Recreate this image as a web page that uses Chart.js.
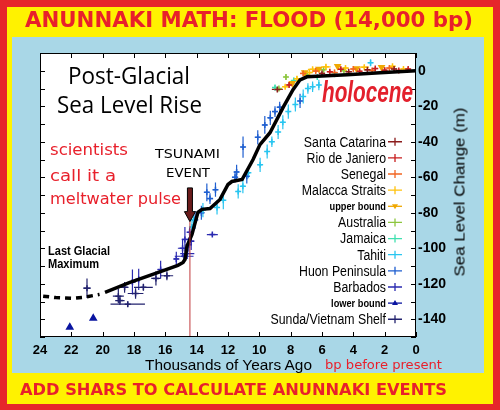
<!DOCTYPE html>
<html>
<head>
<meta charset="utf-8">
<script src="https://cdn.jsdelivr.net/npm/chart.js@4.4.1/dist/chart.umd.min.js"></script>
<style>
  body { margin: 0; }
  #frame { position: relative; width: 500px; height: 410px; background: #e6262b; overflow: hidden; }
  .box { position: absolute; }
  .t { position: absolute; white-space: nowrap; line-height: 1; transform-origin: 0 50%; }
  .red { color: #e8202b; }
  .comic { font-family: "DejaVu Sans", sans-serif; }
</style>
</head>
<body>
<div id="frame">
  <div class="box" style="left:7px;top:7px;width:486px;height:397px;background:#fff200"></div>
  <div class="box" style="left:12px;top:37px;width:472px;height:336px;background:#a9d7e7"></div>
  <canvas id="chart" width="500" height="410" style="position:absolute;left:0;top:0"></canvas>

  <div class="t red comic" data-x="25" data-y="19.5" data-w="448" style="font-size:21px;font-weight:bold">ANUNNAKI MATH: FLOOD (14,000 bp)</div>
  <div class="t red comic" data-x="20" data-y="389.5" data-w="427" style="font-size:16px;font-weight:bold">ADD SHARS TO CALCULATE ANUNNAKI EVENTS</div>

  <div class="t" data-x="68" data-y="74" data-w="122" style="font:24px 'Open Sans',sans-serif">Post-Glacial</div>
  <div class="t" data-x="57" data-y="103" data-w="145" style="font:24px 'Open Sans',sans-serif">Sea Level Rise</div>
  <div class="t" data-x="322" data-y="92" data-w="91" style="font:bold italic 30px 'Liberation Sans',sans-serif;color:#e3202c">holocene</div>

  <div class="t red comic" data-x="50" data-y="150" data-w="78" style="font-size:16px">scientists</div>
  <div class="t red comic" data-x="50" data-y="175.5" data-w="66" style="font-size:16px">call it a</div>
  <div class="t red comic" data-x="50" data-y="198.5" data-w="131" style="font-size:16px">meltwater pulse</div>

  <div class="t comic" data-x="155" data-y="153.5" data-w="65" style="font-size:12px">TSUNAMI</div>
  <div class="t comic" data-x="166" data-y="173" data-w="44" style="font-size:12px">EVENT</div>

  <div class="t" data-x="48" data-y="250.5" data-w="62" style="font:bold 12.5px 'Liberation Sans',sans-serif">Last Glacial</div>
  <div class="t" data-x="48" data-y="264" data-w="51" style="font:bold 12.5px 'Liberation Sans',sans-serif">Maximum</div>

  <div class="t" data-x="145" data-y="364" data-w="167" style="font:15px 'Liberation Sans',sans-serif">Thousands of Years Ago</div>
  <div class="t red comic" data-x="325" data-y="365" data-w="117" style="font-size:12px">bp before present</div>
  <div class="t" id="ylab" style="font:15px 'Liberation Sans',sans-serif">Sea Level Change (m)</div>
</div>

<script>
// age in thousands of years ago, level in m (age, level, age error, level error)
const curveAge   = [19.85, 18.3, 16.4, 15.2, 14.87, 14.74, 14.62, 14.3, 13.92, 13.66, 13.15, 12.51, 12.0, 11.75, 11.1, 10.4, 9.96, 9.32, 8.49, 7.85, 7.4, 6.96, 4.4, 2.3, 0];
const curveLevel = [-124.8, -119.4, -113.5, -109.6, -108, -106.2, -98.9, -92.2, -79.8, -78.1, -77.6, -72.5, -64.1, -62.4, -61.3, -50, -41.6, -34.9, -20.8, -10.7, -5.1, -3.4, -2.2, -1.1, 0];
const lgmAge   = [23.8, 23.0, 22.0, 21.2, 20.2];
const lgmLevel = [-127, -127.8, -128.2, -127.6, -126];

const santaCatarina = [[8.85,-10.5,0.35,1],[6.0,-1.5,0.2,1],[4.3,-0.5,0.2,1.5],[3.1,0.5,0.2,1],[1.4,1,0.2,1]];
const rioDeJaniero  = [[8.1,-8,0.15,1.5],[5.5,-0.5,0.15,1],[4.8,0.8,0.15,1.5],[3.6,-0.3,0.15,1],[2.6,1.2,0.15,1],[2.0,0.3,0.15,1.5],[1.1,0.2,0.15,1],[0.5,1,0.15,1]];
const senegal       = [[7.2,-1.5,0.2,1.5],[6.4,-0.2,0.2,1],[5.2,-1,0.2,1.5],[4.0,1,0.2,1],[2.8,0.2,0.2,1],[1.7,1.5,0.2,1]];
const malacca       = [[8.35,-9,0.2,1],[7.6,-4.5,0.2,1.5],[6.8,-1,0.2,1],[6.6,0.8,0.3,1],[5.75,2.2,0.3,1.5],[4.5,1.5,0.2,1],[3.3,2,0.3,1],[1.5,2.5,0.2,1],[0.8,1,0.2,1]];
const upperBound    = [[7.9,-7],[7.1,-1],[6.2,1],[5.0,2.5],[3.8,1.2],[2.2,2]];
const australia     = [[8.3,-3.5,0.1,1.5],[8.75,-10,0.15,1],[6.95,-2.2,0.1,1.5],[5.9,0.5,0.1,1],[4.6,0,0.1,1]];
const jamaica       = [[9.0,-9.5,0.15,1.5],[7.8,-5.5,0.1,1.5],[6.3,-3.5,0.1,1],[5.2,-2,0.1,1]];
const tahiti        = [[14.3,-88,0.1,4],[14.2,-84,0.1,3],[13.6,-78.5,0.1,4],[12.7,-77,0.1,4],[12.3,-73,0.1,5],[11.35,-68,0.1,4],[11.05,-65,0.1,4],[10.7,-57.5,0.1,3],[9.95,-53,0.1,4],[9.5,-45.5,0.1,4],[9.2,-40,0.1,3],[8.8,-34.5,0.1,4],[8.5,-29,0.1,4],[8.15,-23,0.1,4],[7.7,-19,0.1,4],[7.2,-14.5,0.1,4],[6.9,-10,0.1,3],[6.6,-9,0.1,3],[6.2,-8,0.1,3],[2.9,4.5,0.15,2]];
const huon          = [[13.35,-68.5,0.15,5],[12.8,-67,0.15,4],[13.15,-72,0.2,3],[11.45,-57,0.15,4],[10.8,-59.5,0.15,4],[11.55,-60,0.2,3],[11.04,-43,0.1,6],[10.1,-37.5,0.15,4],[9.65,-30.5,0.15,5],[9.3,-26.5,0.15,4],[9.0,-23,0.15,3],[8.7,-20.5,0.15,3],[7.4,-17,0.1,4],[14.1,-84,0.2,5],[13.7,-80,0.2,4]];
const barbados      = [[18.1,-119,0.2,7],[17.7,-117.5,0.2,6],[16.3,-112,0.2,5],[15.3,-106,0.15,4],[14.9,-100,0.3,5],[14.75,-95,0.2,7],[14.6,-103,0.45,3],[14.5,-98,0.2,4],[14.45,-91,0.15,3],[14.8,-104.5,0.6,1.5],[13.0,-92.3,0.35,1],[14.35,-96,0.2,5]];
const lowerBound    = [[22.1,-144.5],[20.6,-139.5]];
const sunda         = [[21.0,-122.5,0.25,5.5],[19.0,-127,0.35,4],[18.4,-131.5,1.1,1.5],[18.9,-129.5,0.3,2.5],[17.9,-125.5,0.5,3],[17.4,-122,0.6,2],[16.6,-117,0.3,4],[15.9,-115.5,0.4,2.5],[18.6,-122,0.25,3]];

const tsunamiAge = 14.43;
const arrowTopLevel = -66, arrowTipLevel = -85;

// fit the overlay texts to their measured widths
document.querySelectorAll('.t[data-w]').forEach(el => {
  const w = el.getBoundingClientRect().width;
  el.style.left = el.dataset.x + 'px';
  el.style.top = el.dataset.y + 'px';
  el.style.transform = `translateY(-50%) scaleX(${el.dataset.w / w})`;
});
const ylab = document.getElementById('ylab');
const yw = ylab.getBoundingClientRect().width;
ylab.style.left = '459px';
ylab.style.top = '192px';
ylab.style.transformOrigin = '50% 50%';
ylab.style.transform = `translate(-50%,-50%) rotate(-90deg) scaleX(${169 / yw})`;

const pts = arr => arr.map(p => ({ x: p[0], y: p[1], xe: p[2] || 0, ye: p[3] || 0 }));

const series = (label, data, color, extra) => Object.assign({
  label, data: pts(data), borderColor: color, backgroundColor: color,
  pointStyle: 'cross', pointRadius: 3, borderWidth: 1.5, order: 1, inLegend: true
}, extra || {});

const datasets = [
  { label: 'curve', data: curveAge.map((a, i) => ({ x: a, y: curveLevel[i] })), showLine: true,
    borderColor: '#000', borderWidth: 3.5, pointRadius: 0, order: 0 },
  { label: 'lgm', data: lgmAge.map((a, i) => ({ x: a, y: lgmLevel[i] })), showLine: true,
    borderColor: '#000', borderWidth: 3.5, borderDash: [6, 5], pointRadius: 0, order: 0 },
  series('Santa Catarina', santaCatarina, '#8b1c1c'),
  series('Rio de Janiero', rioDeJaniero, '#c81e1e'),
  series('Senegal', senegal, '#f26522'),
  series('Malacca Straits', malacca, '#ffc20e'),
  series('upper bound', upperBound, '#f0a800', { pointStyle: 'triangle', rotation: 180, pointRadius: 3, small: true }),
  series('Australia', australia, '#8dc63f'),
  series('Jamaica', jamaica, '#40e0b0'),
  series('Tahiti', tahiti, '#29c5f0'),
  series('Huon Peninsula', huon, '#1f5fd0'),
  series('Barbados', barbados, '#2a2ab0'),
  series('lower bound', lowerBound, '#0a14a0', { pointStyle: 'triangle', pointRadius: 3.5, small: true }),
  series('Sunda/Vietnam Shelf', sunda, '#22226e')
];

const frame = {
  id: 'frame',
  beforeDraw(chart) {
    const { ctx, chartArea: a } = chart;
    ctx.save();
    ctx.fillStyle = '#fff';
    ctx.fillRect(a.left, a.top, a.right - a.left, a.bottom - a.top);
    ctx.restore();
  },
  beforeDatasetsDraw(chart) {
    const { ctx, scales: { x, y } } = chart;
    ctx.save();
    ctx.lineWidth = 1.2;
    chart.data.datasets.forEach(ds => {
      if (!ds.inLegend) return;
      ctx.strokeStyle = ds.borderColor;
      ds.data.forEach(p => {
        ctx.beginPath();
        if (p.xe) {
          ctx.moveTo(x.getPixelForValue(p.x - p.xe), y.getPixelForValue(p.y));
          ctx.lineTo(x.getPixelForValue(p.x + p.xe), y.getPixelForValue(p.y));
        }
        if (p.ye) {
          ctx.moveTo(x.getPixelForValue(p.x), y.getPixelForValue(p.y - p.ye));
          ctx.lineTo(x.getPixelForValue(p.x), y.getPixelForValue(p.y + p.ye));
        }
        ctx.stroke();
      });
    });
    ctx.restore();
  },
  afterDatasetsDraw(chart) {
    const { ctx, chartArea: a, scales: { x, y } } = chart;
    ctx.save();
    // tsunami marker line and arrow
    const tx = x.getPixelForValue(tsunamiAge);
    const top = y.getPixelForValue(arrowTopLevel), tip = y.getPixelForValue(arrowTipLevel);
    ctx.strokeStyle = '#c0393b';
    ctx.lineWidth = 1;
    ctx.beginPath();
    ctx.moveTo(tx, tip);
    ctx.lineTo(tx, a.bottom);
    ctx.stroke();
    ctx.fillStyle = '#6a1c1c';
    ctx.strokeStyle = '#000';
    ctx.beginPath();
    ctx.moveTo(tx - 2.5, top);
    ctx.lineTo(tx + 2.5, top);
    ctx.lineTo(tx + 2.5, tip - 10);
    ctx.lineTo(tx + 5.5, tip - 10);
    ctx.lineTo(tx, tip);
    ctx.lineTo(tx - 5.5, tip - 10);
    ctx.lineTo(tx - 2.5, tip - 10);
    ctx.closePath();
    ctx.fill();
    ctx.stroke();

    // frame and inner ticks
    ctx.strokeStyle = '#000';
    ctx.lineWidth = 1;
    ctx.strokeRect(a.left + 0.5, a.top + 0.5, a.right - a.left - 1, a.bottom - a.top - 1);
    ctx.beginPath();
    x.ticks.forEach(t => {
      const px = Math.round(x.getPixelForValue(t.value)) + 0.5;
      ctx.moveTo(px, a.bottom); ctx.lineTo(px, a.bottom - 5);
      ctx.moveTo(px, a.top); ctx.lineTo(px, a.top + 5);
    });
    y.ticks.forEach(t => {
      const py = Math.round(y.getPixelForValue(t.value)) + 0.5;
      ctx.moveTo(a.left, py); ctx.lineTo(a.left + 5, py);
      ctx.moveTo(a.right, py); ctx.lineTo(a.right - 5, py);
    });
    ctx.stroke();

    // legend, right aligned inside the plot
    const items = chart.data.datasets.filter(ds => ds.inLegend);
    const y0 = y.getPixelForValue(-40), y1 = y.getPixelForValue(-140);
    const step = (y1 - y0) / (items.length - 1);
    const textRight = a.right - 30, mx = a.right - 21;
    ctx.textBaseline = 'middle';
    items.forEach((ds, i) => {
      const ly = y0 + i * step;
      ctx.save();
      ctx.translate(textRight, ly);
      ctx.scale(0.88, 1);
      ctx.fillStyle = '#000';
      ctx.textAlign = 'right';
      ctx.font = ds.small ? 'bold 10.5px "Liberation Sans"' : '14px "Liberation Sans"';
      ctx.fillText(ds.label, 0, 1);
      ctx.restore();
      ctx.strokeStyle = ds.borderColor;
      ctx.fillStyle = ds.borderColor;
      ctx.lineWidth = 1.3;
      ctx.beginPath();
      ctx.moveTo(mx - 7, ly); ctx.lineTo(mx + 7, ly);
      if (!ds.small) { ctx.moveTo(mx, ly - 4); ctx.lineTo(mx, ly + 4); }
      ctx.stroke();
      if (ds.small) {
        const d = ds.rotation ? -1 : 1;
        ctx.beginPath();
        ctx.moveTo(mx, ly - 3 * d); ctx.lineTo(mx + 3, ly + 2 * d); ctx.lineTo(mx - 3, ly + 2 * d);
        ctx.closePath();
        ctx.fill();
      }
    });
    ctx.restore();
  }
};

new Chart(document.getElementById('chart'), {
  type: 'scatter',
  data: { datasets },
  options: {
    responsive: false,
    animation: false,
    layout: { padding: { left: 40, top: 53, right: 0, bottom: 0 } },
    plugins: { legend: { display: false }, tooltip: { enabled: false } },
    scales: {
      x: {
        type: 'linear', reverse: true, min: 0, max: 24, position: 'bottom',
        grid: { display: false, drawTicks: false }, border: { display: false },
        ticks: { stepSize: 2, padding: 6, color: '#000', font: { family: 'Liberation Sans', size: 13, weight: 'bold' } },
        afterFit: s => { s.height = 73; }
      },
      y: {
        type: 'linear', min: -150, max: 10, position: 'right',
        grid: { display: false, drawTicks: false }, border: { display: false },
        ticks: {
          stepSize: 10, autoSkip: false, padding: 2, color: '#000',
          font: { family: 'Liberation Sans', size: 14, weight: 'bold' },
          callback: v => (v % 20 === 0 ? String(v) : '')
        },
        afterFit: s => { s.width = 84; }
      }
    }
  },
  plugins: [frame]
});
</script>
</body>
</html>
